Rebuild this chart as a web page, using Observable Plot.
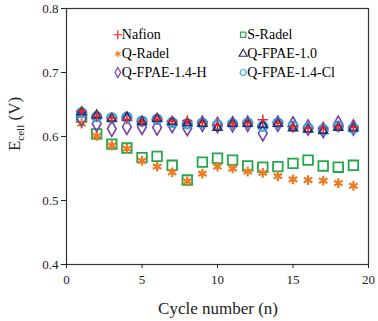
<!DOCTYPE html>
<html><head><meta charset="utf-8">
<script src="https://cdn.jsdelivr.net/npm/d3@7"></script>
<script src="https://cdn.jsdelivr.net/npm/@observablehq/plot@0.6"></script>
<style>body{margin:0;background:#fff;} svg{display:block;}</style>
</head><body><div id="chart"></div>
<script>
const cycles = [1,2,3,4,5,6,7,8,9,10,11,12,13,14,15,16,17,18,19];
const nafion  = [0.640,0.632,0.628,0.627,0.623,0.627,0.624,0.625,0.622,0.618,0.620,0.621,0.626,0.621,0.616,0.613,0.613,0.616,0.614];
const sRadel  = [0.630,0.604,0.588,0.582,0.567,0.569,0.555,0.532,0.560,0.566,0.563,0.554,0.552,0.553,0.558,0.563,0.554,0.552,0.555];
const qRadel  = [0.620,0.601,0.586,0.581,0.562,0.553,0.544,0.530,0.542,0.553,0.550,0.545,0.543,0.538,0.533,0.532,0.531,0.527,0.523];
const qFPAE10 = [0.638,0.633,0.628,0.630,0.623,0.628,0.623,0.621,0.620,0.614,0.620,0.620,0.618,0.620,0.613,0.611,0.609,0.614,0.613];
const qFPAE14H= [0.628,0.620,0.612,0.615,0.615,0.614,0.618,0.613,0.620,0.618,0.619,0.620,0.605,0.620,0.619,0.614,0.610,0.620,0.614];
const qFPAE14Cl=[0.637,0.631,0.629,0.630,0.624,0.627,0.622,0.620,0.621,0.618,0.620,0.621,0.616,0.621,0.616,0.613,0.611,0.616,0.613];
const xTicks = [0,5,10,15,20];
const yTicks = [0.4,0.5,0.6,0.7,0.8];

const series = [
  {name:"S-Radel", values:sRadel, symbol:"square", color:"#22a84a", r:5.4, sw:1.8},
  {name:"Q-Radel", values:qRadel, symbol:"asterisk", color:"#f07a22", r:4.6, sw:2.2},
  {name:"Q-FPAE-1.4-H", values:qFPAE14H, symbol:"diamond", color:"#7b3fa6", r:4.6, sw:1.6},
  {name:"Q-FPAE-1.4-Cl", values:qFPAE14Cl, symbol:"circle", color:"#2aa9e6", r:4.6, sw:2.2},
  {name:"Q-FPAE-1.0", values:qFPAE10, symbol:"triangle", color:"#27306e", r:3.2, sw:1.8},
  {name:"Nafion", values:nafion, symbol:"plus", color:"#ee2028", r:3.4, sw:1.5}
];
const legendOrder = ["Nafion","S-Radel","Q-Radel","Q-FPAE-1.0","Q-FPAE-1.4-H","Q-FPAE-1.4-Cl"];
const legendCol = [3.4, 11.7];
const legendRow = [0.759, 0.729, 0.700];

const marks = [];
for (const s of series) {
  const data = cycles.map((c,i)=>({x:c, y:s.values[i]}));
  marks.push(Plot.dot(data, {x:"x", y:"y", symbol:()=>s.symbol, r:s.r, stroke:s.color, fill:"none", strokeWidth:s.sw}));
}
const legendData = legendOrder.map((name,i)=>{
  const s = series.find(d=>d.name===name);
  return {name, x:legendCol[i%2], y:legendRow[Math.floor(i/2)], symbol:s.symbol, color:s.color};
});
marks.push(Plot.dot(legendData, {x:"x", y:"y", symbol:"symbol", r:3, stroke:"color", fill:"none", strokeWidth:1.2}));
marks.push(Plot.text(legendData, {x:"x", y:"y", text:"name", dx:4, textAnchor:"start", fontSize:14, fill:"#000"}));
marks.push(Plot.frame({stroke:"#333", strokeWidth:1.2}));
marks.push(Plot.axisX({ticks:xTicks, tickSize:4, tickPadding:6, fontSize:13, label:null}));
marks.push(Plot.axisY({ticks:yTicks, tickSize:5, tickPadding:3, fontSize:13, label:null, tickFormat:d3.format(".1f")}));

const chart = Plot.plot({
  width:378, height:321,
  marginTop:8, marginRight:10, marginBottom:57, marginLeft:66,
  style:{fontFamily:"'Liberation Serif', serif", background:"#fff", color:"#222"},
  x:{domain:[0,20]},
  y:{domain:[0.4,0.8]},
  symbol:{type:"identity"},
  marks
});
const svg = d3.select(chart);
svg.append("text").attr("x", 218).attr("y", 314).attr("text-anchor","middle")
  .attr("font-size", 17).attr("font-family","'Liberation Serif', serif").attr("fill","#222").text("Cycle number (n)");
const yl = svg.append("text").attr("transform","translate(20,124) rotate(-90)").attr("text-anchor","middle")
  .attr("font-size", 17).attr("font-family","'Liberation Serif', serif").attr("fill","#222");
yl.append("tspan").text("E");
yl.append("tspan").attr("font-size", 11).attr("dy", 4).text("cell");
yl.append("tspan").attr("dy", -4).text(" (V)");
document.getElementById("chart").appendChild(chart);
</script></body></html>
